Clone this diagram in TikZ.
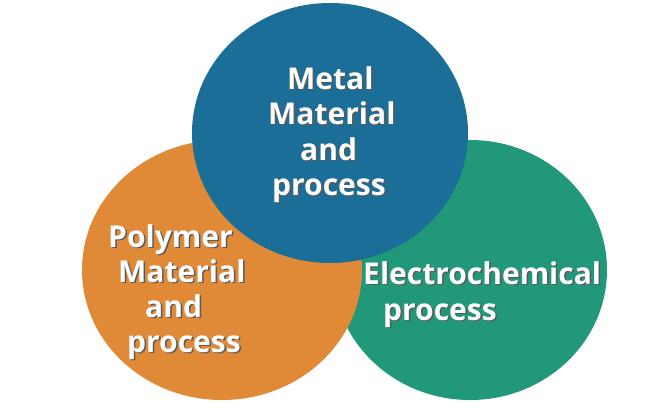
\documentclass[tikz,border=0pt]{standalone}
\usepackage{fontspec}
\setmainfont{Open Sans}
\definecolor{orangeC}{HTML}{E08A38}
\definecolor{blueC}{HTML}{1A6E98}
\definecolor{greenC}{HTML}{21987A}
\definecolor{shadowC}{HTML}{5A5A5A}
\tikzset{
  blob/.style={draw=none},
  txt/.style={text=white, font=\bfseries\fontsize{30}{30}\selectfont, inner sep=0pt, anchor=base west},
  shd/.style={txt, text=shadowC, xshift=1.5pt, yshift=-1.5pt}
}
\newcommand\shline[4]{%
  \node[shd] at (#2,#3) {#4};
  \node[txt] (#1) at (#2,#3) {#4};}
\begin{document}
\begin{tikzpicture}[x=1pt,y=-1pt]
\useasboundingbox[fill=white] (0,0) rectangle (656,410);
\fill[blob, greenC] (470,270) ellipse [x radius=137, y radius=130];
\fill[blob, orangeC] (222,270) ellipse [x radius=140, y radius=130];
\fill[blob, blueC] (330,133) ellipse [x radius=138, y radius=130];
% Metal
\shline{m1}{287}{89}{Metal}
\shline{m2}{268}{124}{Material}
\shline{m3}{300}{160}{and}
\shline{m4}{272}{195}{process}
% Polymer
\shline{p1}{108}{247}{Polymer}
\shline{p2}{118}{282}{Material}
\shline{p3}{145}{317}{and}
\shline{p4}{127}{352}{process}
% Electrochemical
\shline{e1}{363}{284}{Electrochemical}
\shline{e2}{383}{320}{process}
\end{tikzpicture}
\end{document}
